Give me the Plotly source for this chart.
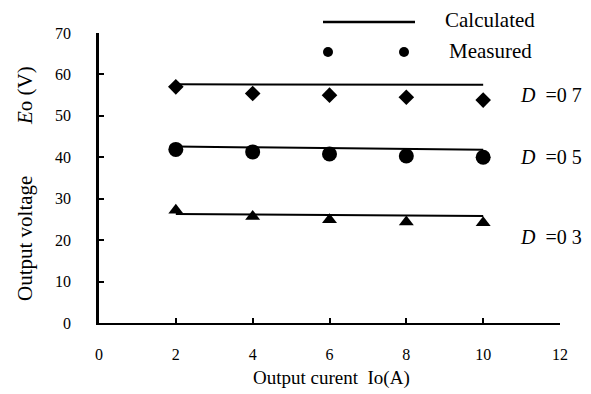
import plotly.graph_objects as go

# Data
currents = [2, 4, 6, 8, 10]
meas_d07 = [57.0, 55.4, 55.0, 54.5, 53.8]
meas_d05 = [41.9, 41.3, 40.8, 40.3, 40.0]
meas_d03 = [27.2, 25.7, 24.9, 24.4, 24.2]
calc_x = [2, 10]
calc_d07 = [57.6, 57.5]
calc_d05 = [42.6, 41.8]
calc_d03 = [26.3, 25.8]
duty_labels = ["0 7", "0 5", "0 3"]
duty_label_y = [55.0, 40.0, 20.8]
x_ticks = [0, 2, 4, 6, 8, 10, 12]
y_ticks = [0, 10, 20, 30, 40, 50, 60, 70]

FONT = "Liberation Serif, Times New Roman, serif"
fig = go.Figure()

for cy in [calc_d07, calc_d05, calc_d03]:
    fig.add_trace(go.Scatter(x=calc_x, y=cy, mode="lines",
                             line=dict(color="black", width=2), showlegend=False))

fig.add_trace(go.Scatter(x=currents, y=meas_d07, mode="markers",
                         marker=dict(symbol="diamond", size=12, color="black"), showlegend=False))
fig.add_trace(go.Scatter(x=currents, y=meas_d05, mode="markers",
                         marker=dict(symbol="circle", size=15, color="black"), showlegend=False))
fig.add_trace(go.Scatter(x=currents, y=meas_d03, mode="markers",
                         marker=dict(symbol="triangle-up", size=13, color="black"), showlegend=False))

annotations = []
for lab, yv in zip(duty_labels, duty_label_y):
    annotations.append(dict(x=10.9, y=yv, xref="x", yref="y", text="<i>D</i>  =" + lab,
                            showarrow=False, xanchor="left", yanchor="middle",
                            font=dict(family=FONT, size=20, color="black")))

# legend (manual); screen coords -> paper (plot area on screen: x 99..560, y 33..323)
def px2paper_x(px):
    return (px - 99) / 461.0

def px2paper_y(py):
    return (323 - py) / 290.0

shapes = [dict(type="line", xref="paper", yref="paper",
               x0=px2paper_x(323), x1=px2paper_x(415), y0=px2paper_y(22), y1=px2paper_y(22),
               line=dict(color="black", width=2.5))]
for dx in [328, 404]:
    shapes.append(dict(type="circle", xref="paper", yref="paper",
                       x0=px2paper_x(dx - 5), x1=px2paper_x(dx + 5),
                       y0=px2paper_y(52 + 5), y1=px2paper_y(52 - 5),
                       fillcolor="black", line=dict(color="black", width=0)))
annotations.append(dict(x=px2paper_x(443), y=px2paper_y(20), xref="paper", yref="paper",
                        text="Calculated", showarrow=False, xanchor="left", yanchor="middle",
                        font=dict(family=FONT, size=21, color="black")))
annotations.append(dict(x=px2paper_x(447), y=px2paper_y(51), xref="paper", yref="paper",
                        text="Measured", showarrow=False, xanchor="left", yanchor="middle",
                        font=dict(family=FONT, size=21, color="black")))

# axis titles
annotations.append(dict(x=px2paper_x(25), y=px2paper_y(239), xref="paper", yref="paper",
                        text="Output voltage", showarrow=False, textangle=-90,
                        xanchor="center", yanchor="middle",
                        font=dict(family=FONT, size=21, color="black")))
annotations.append(dict(x=px2paper_x(25), y=px2paper_y(96), xref="paper", yref="paper",
                        text="<i>E</i>o (V)", showarrow=False, textangle=-90,
                        xanchor="center", yanchor="middle",
                        font=dict(family=FONT, size=21, color="black")))
annotations.append(dict(x=px2paper_x(331), y=px2paper_y(378), xref="paper", yref="paper",
                        text="Output curent  Io(A)", showarrow=False,
                        xanchor="center", yanchor="middle",
                        font=dict(family=FONT, size=19, color="black")))

fig.update_layout(
    width=591, height=394,
    margin=dict(l=91, r=39, t=25, b=79),
    paper_bgcolor="white", plot_bgcolor="white",
    font=dict(family=FONT, color="black"),
    annotations=annotations, shapes=shapes,
    showlegend=False,
)
fig.update_xaxes(range=[0, 12], tickvals=x_ticks, ticktext=[str(v) for v in x_ticks],
                 showgrid=False, zeroline=False, showline=True, linecolor="black", linewidth=2,
                 ticks="inside", ticklen=5, tickwidth=1.5, tickcolor="black",
                 ticklabelstandoff=16, tickfont=dict(family=FONT, size=16, color="black"))
fig.update_yaxes(range=[0, 70], tickvals=y_ticks, ticktext=[str(v) for v in y_ticks],
                 showgrid=False, zeroline=False, showline=True, linecolor="black", linewidth=2.5,
                 ticks="inside", ticklen=5, tickwidth=1.5, tickcolor="black",
                 ticklabelstandoff=22, tickfont=dict(family=FONT, size=16, color="black"))

fig.write_html("out.html")
